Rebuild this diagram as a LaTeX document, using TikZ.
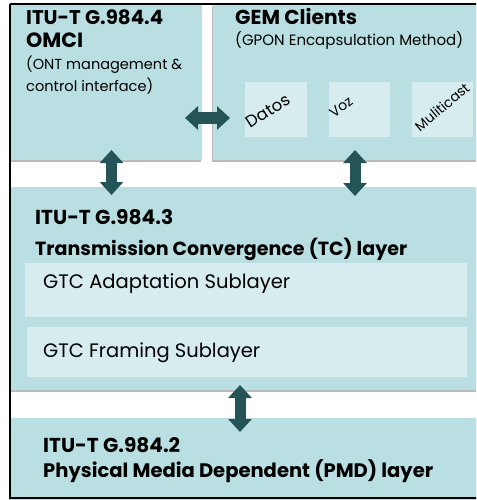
\documentclass[tikz,border=0pt]{standalone}
\usepackage{fontspec}
\usepackage{graphicx}
\setmainfont{Poppins}
\usetikzlibrary{arrows.meta,shadows}
\definecolor{boxfill}{RGB}{185,223,226}
\definecolor{innerfill}{RGB}{214,236,239}
\definecolor{arrowc}{RGB}{37,84,86}
% set a text at the font size that gives it a given width
\newsavebox{\fitbox}
\newcommand{\fitw}[2]{%
  \sbox{\fitbox}{\fontsize{10}{12}\selectfont #2}%
  \pgfmathsetmacro{\fitsize}{10*#1/\the\wd\fitbox}%
  {\fontsize{\fitsize}{\fitsize}\selectfont #2}}
\tikzset{
  layer/.style={fill=boxfill, draw=none, inner sep=0,
    drop shadow={shadow xshift=-0.6pt, shadow yshift=-1.6pt, opacity=0.45, fill=black!60}},
  sub/.style={fill=innerfill, draw=none, inner sep=0},
  head/.style={anchor=base west, inner sep=0, font=\bfseries},
  txt/.style={anchor=base west, inner sep=0},
  tag/.style={inner sep=0},
  dblarrow/.style={draw=arrowc, line width=11pt,
    {Triangle[width=23pt,length=13pt]}-{Triangle[width=23pt,length=13pt]}}
}
\begin{document}
\begin{tikzpicture}[x=1pt,y=-1pt]
\useasboundingbox (0,0) rectangle (476,500);
\clip (0,0) rectangle (476,500);

% layer boxes
\path[layer] (10,4) rectangle (202,160) node[pos=0.5] (omci) {};
\path[layer] (213,4) rectangle (482,160) node[pos=0.5] (gem) {};
\path[layer] (10,187) rectangle (482,390) node[pos=0.5] (tc) {};
\path[layer] (10,418) rectangle (482,504) node[pos=0.5] (pmd) {};

% GEM client boxes
\path[sub] (245,82) rectangle (307,137) node[pos=0.5] (datos) {};
\path[sub] (329,82) rectangle (390,137) node[pos=0.5] (voz) {};
\path[sub] (412,82) rectangle (473,137) node[pos=0.5] (multi) {};
\node[tag] (l1) at (268,111) {\rotatebox{33}{\fitw{48pt}{Datos}}};
\node[tag] (l2) at (341,107) {\rotatebox{38}{\fitw{25pt}{Voz}}};
\node[tag] (l3) at (442,107) {\rotatebox{40}{\fitw{66pt}{Muliticast}}};

% TC sublayers
\path[sub] (25,263) rectangle (467,317) node[pos=0.5] (adapt) {};
\path[sub] (27,327) rectangle (467,377) node[pos=0.5] (framing) {};

% outer frame
\draw[line width=1.4pt] (10,4) -- (482,4) (10,4) -- (10,498) -- (482,498);

% texts
\node[head] (t1) at (26,25) {\fitw{137pt}{ITU-T G.984.4}};
\node[head] (t2) at (26,48) {\fitw{57pt}{OMCI}};
\node[txt] (t3) at (26,70) {\fitw{156pt}{(ONT management \&}};
\node[txt] (t4) at (26,92) {\fitw{127pt}{control interface)}};
\node[head] (t5) at (235,25) {\fitw{122pt}{GEM Clients}};
\node[txt] (t6) at (235,46) {\fitw{228pt}{(GPON Encapsulation Method)}};
\node[head] (t7) at (35,224) {\fitw{138pt}{ITU-T G.984.3}};
\node[head] (t8) at (35,255) {\fitw{372pt}{Transmission Convergence (TC) layer}};
\node[txt] (t9) at (43,288) {\fitw{247pt}{GTC Adaptation Sublayer}};
\node[txt] (t10) at (43,357) {\fitw{217pt}{GTC Framing Sublayer}};
\node[head] (t11) at (43,452) {\fitw{137pt}{ITU-T G.984.2}};
\node[head] (t12) at (43,477) {\fitw{390pt}{Physical Media Dependent (PMD) layer}};

% arrow end points
\coordinate (omciR) at (185,118);
\coordinate (gemL) at (230,118);
\coordinate (omciB) at (111.5,150);
\coordinate (tcL) at (111.5,195);
\coordinate (gemB) at (355,150);
\coordinate (tcR) at (355,196);
\coordinate (tcB) at (240,385);
\coordinate (pmdT) at (240,432);

\draw[dblarrow] (omciR) -- (gemL);
\draw[dblarrow] (omciB) -- (tcL);
\draw[dblarrow] (gemB) -- (tcR);
\draw[dblarrow] (tcB) -- (pmdT);
\end{tikzpicture}
\end{document}
